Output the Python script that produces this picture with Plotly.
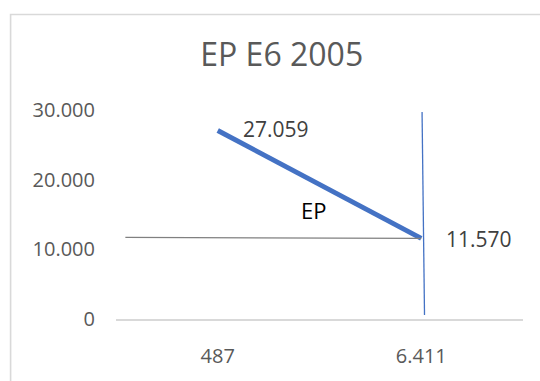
import plotly.graph_objects as go

# Series data
categories = ["487", "6.411"]
ep_values = [27059, 11570]
series_name = "EP"
title_text = "EP E6 2005"

# Y axis ticks
y_ticks = [0, 10000, 20000, 30000]

BLUE = "#4472C4"
GRAY_TEXT = "#595959"
LABEL_TEXT = "#404040"
FRAME = "#d9d9d9"

fig = go.Figure()

fig.add_trace(go.Scatter(
    x=categories,
    y=ep_values,
    mode="lines",
    line=dict(color=BLUE, width=5),
    name=series_name,
    showlegend=False,
    hoverinfo="skip",
))

# Value labels to the right of each point (category index positions)
for idx, val in enumerate(ep_values):
    fig.add_annotation(
        x=idx, y=val, xref="x", yref="y",
        text=f"{val:,}".replace(",", "."),
        showarrow=False, xanchor="left", yanchor="middle",
        xshift=23, yshift=1 if idx == 0 else -1,
        font=dict(family="Open Sans", size=21, color=LABEL_TEXT),
    )

# Series name label below the line
fig.add_annotation(
    x=0.47, y=15700, xref="x", yref="y",
    text=series_name, showarrow=False,
    xanchor="center", yanchor="middle",
    font=dict(family="Open Sans", size=22, color="black"),
)

last_idx = len(categories) - 1
last_val = ep_values[-1]

# Guide lines through the last point
fig.add_shape(type="line", xref="x", yref="y",
              x0=-0.454, y0=last_val + 140, x1=last_idx, y1=last_val,
              line=dict(color="#808080", width=1.3), layer="above")
fig.add_shape(type="line", xref="x", yref="y",
              x0=last_idx + 0.004, y0=29720, x1=last_idx + 0.016, y1=560,
              line=dict(color=BLUE, width=1.3), layer="above")

# Chart frame
fig.add_shape(type="rect", xref="paper", yref="paper",
              x0=-0.259, y0=1.457, x1=2.0, y1=-1.0,
              line=dict(color=FRAME, width=1.6), fillcolor="rgba(0,0,0,0)",
              layer="below")

fig.update_layout(
    width=540, height=381,
    margin=dict(l=116, r=17, t=110, b=55),
    paper_bgcolor="white", plot_bgcolor="white",
    separators=",.",
    title=dict(
        text=title_text, xref="container", yref="container",
        x=0.5217, y=1 - 55 / 381, xanchor="center", yanchor="middle",
        font=dict(family="Open Sans", size=32, color=GRAY_TEXT),
    ),
    xaxis=dict(
        type="category", range=[-0.5, 1.5],
        showgrid=False, zeroline=False,
        showline=True, linecolor=FRAME, linewidth=1.5,
        ticks="", ticklabelstandoff=18,
        tickfont=dict(family="Open Sans", size=20, color=GRAY_TEXT),
    ),
    yaxis=dict(
        range=[0, 30000], tickvals=y_ticks, tickformat=",d",
        showgrid=False, zeroline=False, showline=False,
        ticks="", ticklabelstandoff=20,
        tickfont=dict(family="Open Sans", size=20, color=GRAY_TEXT),
    ),
)

fig.write_html("out.html")
